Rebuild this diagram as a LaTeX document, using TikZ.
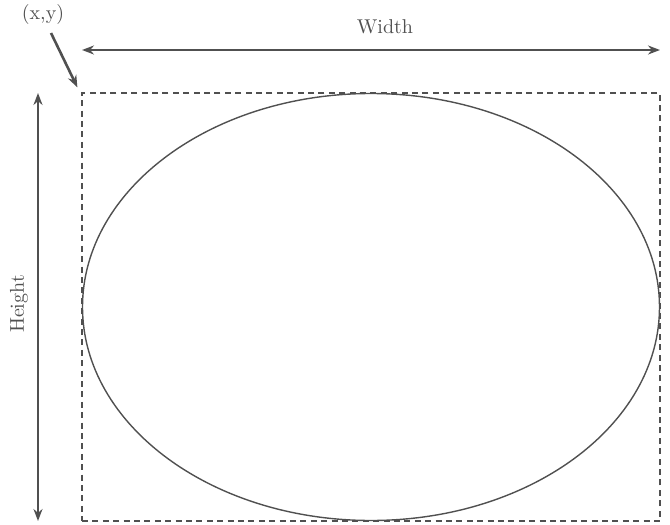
\documentclass[tikz,border=0pt]{standalone}
\usetikzlibrary{arrows.meta}
\definecolor{inkgray}{HTML}{505050}
\begin{document}
\begin{tikzpicture}[x=0.5pt,y=-0.5pt,font=\normalsize,>={Stealth[length=6pt,width=4.5pt]},
  dim/.style={draw=inkgray,line width=1.3pt},
  frame/.style={draw=inkgray,dashed,line width=0.6pt,dash pattern=on 3pt off 2.2pt,minimum width=289pt,minimum height=214pt,inner sep=0pt}]
  \useasboundingbox (0,0) rectangle (670,525);
  % gestrichelter Rahmen
  \node[frame] (box) at (371,307) {};
  % Ellipse
  \draw[inkgray,line width=0.7pt] (box.center) ellipse [x radius=288.5,y radius=213.5];
  % Breite
  \coordinate (wl) at (82,50);
  \coordinate (wr) at (660,50);
  \draw[dim,<->] (wl) -- (wr);
  \node[text=inkgray] (wlab) at (385,27) {Width};
  % Hoehe
  \coordinate (ht) at (38,93);
  \coordinate (hb) at (38,521);
  \draw[dim,<->] (ht) -- (hb);
  \node[text=inkgray,rotate=90] (hlab) at (19,304) {Height};
  % Ursprung
  \node[text=inkgray] (xy) at (43,14) {(x,y)};
  \draw[dim,->] (51,33) -- ([shift={(-4,-5)}]box.north west);
\end{tikzpicture}
\end{document}
